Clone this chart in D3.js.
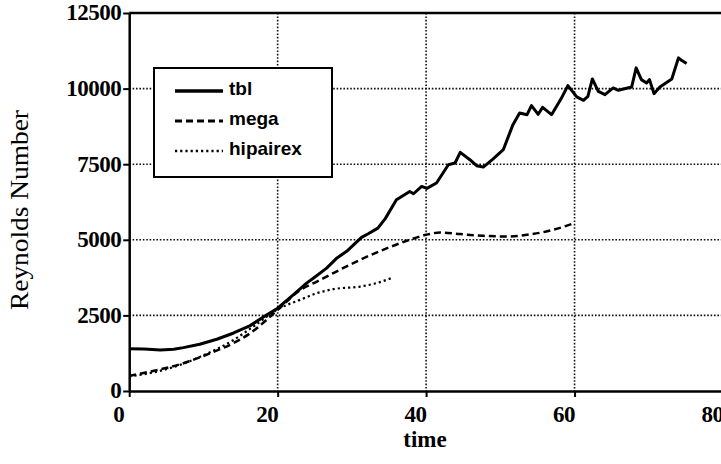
<!DOCTYPE html>
<html>
<head>
<meta charset="utf-8">
<script src="https://cdn.jsdelivr.net/npm/d3@7"></script>
<style>
  body { margin: 0; background: #fff; }
  svg { display: block; }
</style>
</head>
<body>
<div id="container"></div>
<script>
var scene_width = 721, scene_height = 464

// tick values
var xTicks = [0, 20, 40, 60, 80]
var yTicks = [0, 2500, 5000, 7500, 10000, 12500]
var xGrid = [20, 40, 60]
var yGrid = [2500, 5000, 7500, 10000]

// series
var tblTime = [0, 2, 4.2, 6, 7.3, 9.5, 11.8, 14, 16.3, 18.5, 20, 22.1, 23.9, 24.8, 26.6, 28, 29.3, 30.3, 31.3, 32.2, 33.5, 34.5, 36, 37.8, 38.3, 39.4, 40.1, 41.4, 43, 43.9, 44.6, 45.9, 46.8, 47.7, 49, 50.4, 51.7, 52.6, 53.6, 54.2, 55.1, 55.7, 56.9, 58.2, 59.1, 60.3, 61.2, 61.8, 62.4, 63.2, 64.1, 65.2, 65.9, 67.7, 68.3, 69.0, 69.7, 70.1, 70.7, 71.5, 73.1, 74.0, 74.4, 75.1]
var tblRe = [1400, 1390, 1357, 1380, 1434, 1545, 1711, 1910, 2162, 2516, 2738, 3178, 3566, 3731, 4063, 4400, 4620, 4850, 5080, 5200, 5387, 5700, 6324, 6599, 6523, 6765, 6700, 6877, 7483, 7539, 7890, 7648, 7450, 7406, 7671, 7980, 8808, 9195, 9138, 9436, 9150, 9380, 9138, 9670, 10099, 9724, 9612, 9744, 10320, 9910, 9800, 10022, 9943, 10055, 10685, 10297, 10187, 10297, 9833, 10055, 10320, 11016, 10937, 10827]

var megaTime = [0, 2.8, 7.3, 10.9, 14, 16.3, 18.5, 20, 23, 25.3, 27.5, 31.1, 34.2, 37.4, 40, 41.9, 44.6, 47.7, 50.8, 53.6, 56.2, 60]
var megaRe = [500, 640, 917, 1248, 1579, 1910, 2351, 2682, 3330, 3620, 3900, 4338, 4669, 4967, 5165, 5241, 5188, 5132, 5109, 5165, 5274, 5552]

var hipTime = [0, 5, 10, 14, 17, 20, 23, 25.3, 27.5, 31.1, 33.3, 35.3]
var hipRe = [480, 720, 1180, 1680, 2180, 2700, 3013, 3234, 3367, 3454, 3566, 3731]

var seriesNames = ['tbl', 'mega', 'hipairex']

var serif = "'Liberation Serif', 'Times New Roman', serif"
var sans = "'Liberation Sans', Arial, sans-serif"

svg = d3.select('#container').append('svg')
    .attr('width', scene_width)
    .attr('height', scene_height)

var x = d3.scaleLinear().domain([0, 80]).range([129.2, 723])
var y = d3.scaleLinear().domain([0, 12500]).range([391, 13])

// grid
svg.selectAll('.vgrid').data(xGrid).enter().append('line')
    .attr('x1', d => x(d)).attr('x2', d => x(d))
    .attr('y1', y(12500)).attr('y2', y(0))
    .attr('stroke', '#111').attr('stroke-width', 1.6)
    .attr('stroke-dasharray', '1.6,1.8')
svg.selectAll('.hgrid').data(yGrid).enter().append('line')
    .attr('x1', x(0)).attr('x2', scene_width)
    .attr('y1', d => y(d)).attr('y2', d => y(d))
    .attr('stroke', '#111').attr('stroke-width', 1.6)
    .attr('stroke-dasharray', '1.6,1.8')

// top frame line
svg.append('line')
    .attr('x1', x(0)).attr('x2', scene_width)
    .attr('y1', y(12500)).attr('y2', y(12500))
    .attr('stroke', '#000').attr('stroke-width', 2.5)

// axes
var yAxis = svg.append('g')
    .attr('transform', 'translate(' + x(0) + ',0)')
    .call(d3.axisLeft(y).tickValues(yTicks).tickSize(6).tickSizeOuter(0).tickPadding(2).tickFormat(d3.format('d')))
var xAxis = svg.append('g')
    .attr('transform', 'translate(0,' + y(0) + ')')
    .call(d3.axisBottom(x).tickValues(xTicks).tickSize(6).tickSizeOuter(0).tickFormat(d3.format('d')))

;[xAxis, yAxis].forEach(function(g) {
    g.select('.domain').attr('stroke', '#000').attr('stroke-width', 2.5)
    g.selectAll('.tick line').attr('stroke', '#000').attr('stroke-width', 2)
    g.selectAll('.tick text')
        .attr('fill', '#000')
        .style('font-family', serif)
        .style('font-weight', 'bold')
        .style('font-size', '23px')
        .style('letter-spacing', '-0.5px')
})
yAxis.selectAll('.tick text').attr('dy', '0.3em')
xAxis.selectAll('.tick text').attr('y', 15).attr('dx', -11)

// axis titles
svg.append('text')
    .attr('x', 425).attr('y', 447)
    .attr('text-anchor', 'middle')
    .style('font-family', serif).style('font-weight', 'bold').style('font-size', '23px')
    .text('time')
svg.append('text')
    .attr('transform', 'translate(28,210) rotate(-90)')
    .attr('text-anchor', 'middle')
    .attr('textLength', 200).attr('lengthAdjust', 'spacingAndGlyphs')
    .style('font-family', serif).style('font-size', '25px')
    .text('Reynolds Number')

// lines
var line = d3.line().x(d => x(d[0])).y(d => y(d[1]))
var smooth = d3.line().x(d => x(d[0])).y(d => y(d[1])).curve(d3.curveMonotoneX)

var styles = [
    { w: 3, dash: null },
    { w: 2.5, dash: '7,4' },
    { w: 2.2, dash: '2.2,3' }
]

svg.append('path')
    .datum(d3.zip(tblTime, tblRe))
    .attr('d', line)
    .attr('fill', 'none').attr('stroke', '#000')
    .attr('stroke-width', styles[0].w).attr('stroke-linejoin', 'round')
svg.append('path')
    .datum(d3.zip(megaTime, megaRe))
    .attr('d', smooth)
    .attr('fill', 'none').attr('stroke', '#000')
    .attr('stroke-width', styles[1].w).attr('stroke-dasharray', styles[1].dash)
svg.append('path')
    .datum(d3.zip(hipTime, hipRe))
    .attr('d', smooth)
    .attr('fill', 'none').attr('stroke', '#000')
    .attr('stroke-width', styles[2].w).attr('stroke-dasharray', styles[2].dash)

// legend
var legend = svg.append('g')
legend.append('rect')
    .attr('x', 154).attr('y', 68).attr('width', 178).attr('height', 109)
    .attr('fill', '#fff').attr('stroke', '#000').attr('stroke-width', 2)
seriesNames.forEach(function(name, i) {
    var by = 95 + i * 30
    legend.append('line')
        .attr('x1', 175).attr('x2', 223)
        .attr('y1', by - 4).attr('y2', by - 4)
        .attr('stroke', '#000').attr('stroke-width', styles[i].w + 0.5)
        .attr('stroke-dasharray', styles[i].dash)
    legend.append('text')
        .attr('x', 229).attr('y', by)
        .style('font-family', sans).style('font-weight', 'bold').style('font-size', '19px')
        .text(name)
})
</script>
</body>
</html>
